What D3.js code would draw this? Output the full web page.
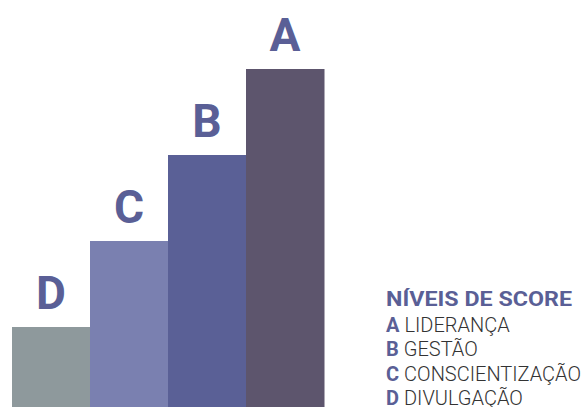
<!DOCTYPE html>
<html>
<head>
<meta charset="utf-8">
<script src="https://cdn.jsdelivr.net/npm/d3@7"></script>
<style>
  body { margin: 0; background: #fff; }
  svg { display: block; font-family: Roboto, sans-serif; }
</style>
</head>
<body>
<svg id="chart" width="582" height="407"></svg>
<script>
// levels, lowest to highest
const levels = ['D', 'C', 'B', 'A'];
const scores = [1, 2, 3, 4];
const barColors = ['#8e999c', '#7a80b0', '#5a6096', '#5d556d'];

const legendTitle = 'NÍVEIS DE SCORE';
const legendKeys = ['A', 'B', 'C', 'D'];
const legendNames = ['LIDERANÇA', 'GESTÃO', 'CONSCIENTIZAÇÃO', 'DIVULGAÇÃO'];

const svg = d3.select('#chart');
const labelColor = '#5a5f96';

const x = d3.scaleBand()
    .domain(levels)
    .range([12, 324])
    .padding(0);

// baseline sits a bit below the bottom edge
const y = d3.scaleLinear()
    .domain([0, 4])
    .range([413, 69]);

svg.selectAll('rect.bar')
    .data(levels)
    .enter()
    .append('rect')
    .attr('class', 'bar')
    .attr('x', d => x(d))
    .attr('width', x.bandwidth() + 0.5)
    .attr('y', (d, i) => y(scores[i]))
    .attr('height', (d, i) => y(0) - y(scores[i]))
    .style('fill', (d, i) => barColors[i]);

svg.selectAll('text.lvl')
    .data(levels)
    .enter()
    .append('text')
    .attr('class', 'lvl')
    .attr('x', d => x(d) + x.bandwidth() / 2)
    .attr('y', (d, i) => y(scores[i]) - 18)
    .attr('text-anchor', 'middle')
    .style('font-size', '46px')
    .style('font-weight', 700)
    .style('fill', labelColor)
    .text(d => d);

// legend
const lg = svg.append('g').attr('transform', 'translate(386,0)');

lg.append('text')
    .attr('x', 0)
    .attr('y', 306)
    .attr('textLength', 186)
    .attr('lengthAdjust', 'spacingAndGlyphs')
    .style('font-size', '21px')
    .style('font-weight', 700)
    .style('fill', labelColor)
    .text(legendTitle);

const item = lg.selectAll('text.item')
    .data(legendKeys)
    .enter()
    .append('text')
    .attr('class', 'item')
    .attr('x', 0)
    .attr('y', (d, i) => 332 + i * 24.3)
    .style('font-size', '20px');

item.append('tspan')
    .style('font-weight', 700)
    .style('fill', labelColor)
    .text(d => d);

item.append('tspan')
    .attr('dx', 5)
    .style('font-weight', 300)
    .style('fill', '#333')
    .text((d, i) => legendNames[i]);
</script>
</body>
</html>
